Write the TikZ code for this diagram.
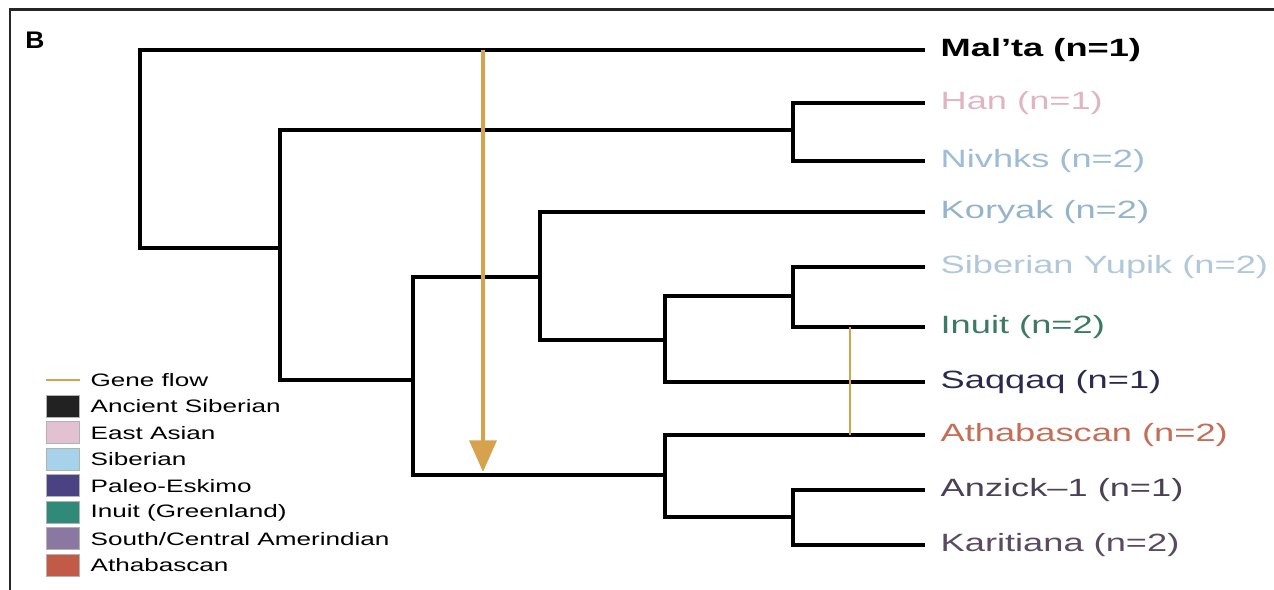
\documentclass[tikz,border=0pt]{standalone}
\usepackage{fontspec}
\usepackage{tikz}
\usetikzlibrary{arrows.meta, positioning, calc}
\newfontfamily\figfont{Liberation Sans}[FakeStretch=1.45, Ligatures=TeX]
\newfontfamily\panelfont{Liberation Sans}[FakeStretch=1.1]
\definecolor{flowcol}{HTML}{D6A24E}
\definecolor{colHan}{HTML}{E0B4C4}
\definecolor{colNiv}{HTML}{9EBCD6}
\definecolor{colKor}{HTML}{94B4CC}
\definecolor{colYup}{HTML}{B0C8DA}
\definecolor{colInu}{HTML}{3C7A66}
\definecolor{colSaq}{HTML}{2B2A4E}
\definecolor{colAth}{HTML}{C46E58}
\definecolor{colAnz}{HTML}{4A4254}
\definecolor{colKar}{HTML}{5A4A62}
\definecolor{legAnc}{HTML}{222222}
\definecolor{legEas}{HTML}{E2C2D2}
\definecolor{legSib}{HTML}{A6D2EA}
\definecolor{legPal}{HTML}{4A4282}
\definecolor{legInu}{HTML}{2F8A7A}
\definecolor{legSou}{HTML}{8A78A2}
\definecolor{legAth}{HTML}{C25A48}
\tikzset{
    branch/.style={line width=1.1pt, black},
    leaf/.style={anchor=west, inner sep=4.5pt, font=\figfont\fontsize{7.5}{9}\selectfont},
    flow/.style={draw=flowcol, line width=1.4pt},
    swatch/.style={draw=gray!60, line width=0.3pt, minimum width=10pt, minimum height=6.6pt, inner sep=0pt},
    legtext/.style={anchor=west, inner sep=0pt, font=\figfont\fontsize{5.4}{6.5}\selectfont}
}
\begin{document}
\begin{tikzpicture}[x=0.3pt, y=-0.3pt]
        \useasboundingbox (0,0) rectangle (1274,590);
        % Frame and panel letter
        \draw[line width=0.9pt, black!85] (10,590) -- (10,10) -- (1274,10);
        \node (panel) at (35,40) [inner sep=0pt, font=\panelfont\bfseries\fontsize{7.2}{8}\selectfont] {B};

        % Leaves
        \node[leaf, font=\figfont\bfseries\fontsize{7.5}{9}\selectfont] (malta) at (925,50) {Mal'ta (n=1)};
        \node[leaf, text=colHan] (han) at (925,103) {Han (n=1)};
        \node[leaf, text=colNiv] (nivhks) at (925,161) {Nivhks (n=2)};
        \node[leaf, text=colKor] (koryak) at (925,212) {Koryak (n=2)};
        \node[leaf, text=colYup] (yupik) at (925,267) {Siberian Yupik (n=2)};
        \node[leaf, text=colInu] (inuit) at (925,327) {Inuit (n=2)};
        \node[leaf, text=colSaq] (saqqaq) at (925,382) {Saqqaq (n=1)};
        \node[leaf, text=colAth] (athab) at (925,435) {Athabascan (n=2)};
        \node[leaf, text=colAnz] (anzick) at (925,490) {Anzick--1 (n=1)};
        \node[leaf, text=colKar] (karit) at (925,545) {Karitiana (n=2)};

        % Internal nodes
        \coordinate (c0) at (140,150);
        \coordinate (c1) at (280,248);
        \coordinate (c2) at (793,130);
        \coordinate (c3) at (413,380);
        \coordinate (c4) at (540,277);
        \coordinate (c5) at (665,340);
        \coordinate (c6) at (793,296);
        \coordinate (c7) at (665,475);
        \coordinate (c8) at (793,517);

        % Branches
        \draw[branch] (malta.west) -| (c0) |- (c1);
        \draw[branch] (c2) -| (c1) |- (c3);
        \draw[branch] (han.west) -| (c2) |- (nivhks.west);
        \draw[branch] (c4) -| (c3) |- (c7);
        \draw[branch] (koryak.west) -| (c4) |- (c5);
        \draw[branch] (c6) -| (c5) |- (saqqaq.west);
        \draw[branch] (yupik.west) -| (c6) |- (inuit.west);
        \draw[branch] (athab.west) -| (c7) |- (c8);
        \draw[branch] (anzick.west) -| (c8) |- (karit.west);

        % Gene flow
        \coordinate (gfa) at (483,472);
        \coordinate (gfb) at (850,0);
        \draw[flow, -{Triangle[length=9.5pt, width=8pt]}] (gfa |- malta.west) -- (gfa);
        \draw[flow, line width=0.7pt] (gfb |- inuit.west) -- (gfb |- athab.west);

        % Legend
        \draw[flow, line width=0.8pt] (46,380) -- (80,380);
        \node[legtext] (lt0) at (90,380) {Gene flow};
        \foreach \lab/\col [count=\i] in {Ancient Siberian/legAnc, East Asian/legEas, Siberian/legSib, Paleo-Eskimo/legPal, Inuit (Greenland)/legInu, {South/Central Amerindian}/legSou, Athabascan/legAth} {
            \node[swatch, fill=\col] (sw\i) at (63, 380+26.5*\i) {};
            \node[legtext] (lt\i) at (90, 380+26.5*\i) {\lab};
        }
    \end{tikzpicture}
\end{document}
